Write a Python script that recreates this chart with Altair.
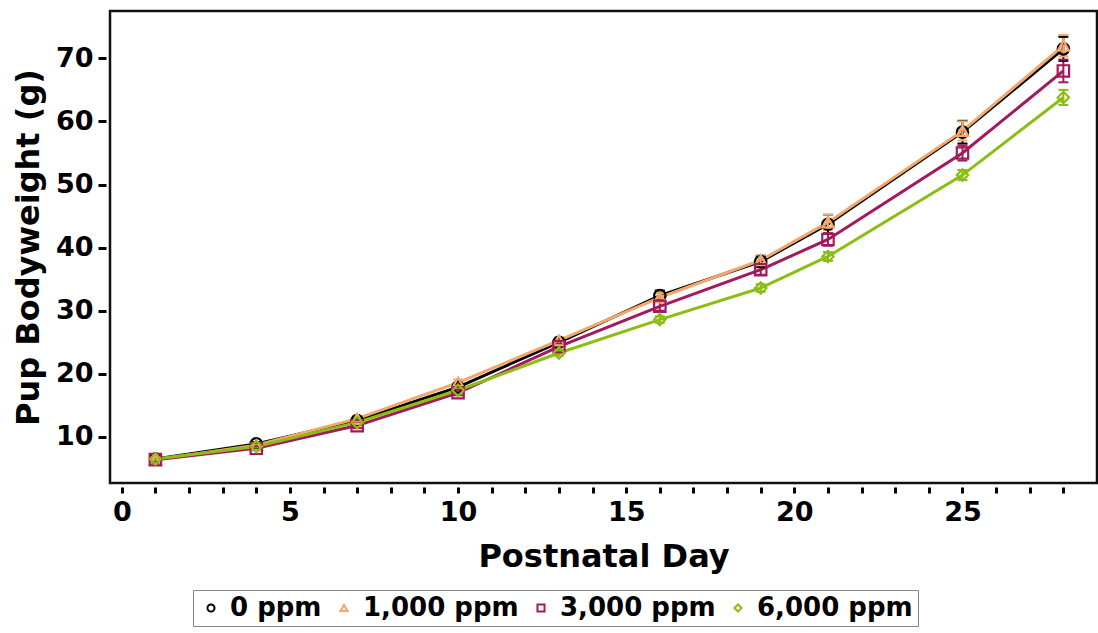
import altair as alt
import pandas as pd

days = [1, 4, 7, 10, 13, 16, 19, 21, 25, 28]
groups = ["0 ppm", "1,000 ppm", "3,000 ppm", "6,000 ppm"]
colors = ["#000000", "#F4A76B", "#A3195B", "#8CBD14"]
shapes = ["circle", "triangle-up", "square", "diamond"]

w_0 = [6.5, 8.9, 12.6, 17.9, 25.0, 32.4, 37.8, 43.7, 58.3, 71.5]
w_1000 = [6.4, 8.7, 12.9, 18.6, 25.3, 32.1, 38.0, 44.0, 58.5, 72.0]
w_3000 = [6.4, 8.2, 11.8, 17.0, 24.3, 30.7, 36.5, 41.3, 55.0, 68.0]
w_6000 = [6.5, 8.5, 12.3, 17.4, 23.3, 28.6, 33.6, 38.6, 51.5, 63.8]

se_0 = [0.3, 0.3, 0.4, 0.5, 0.6, 0.8, 0.9, 1.5, 1.8, 1.9]
se_1000 = [0.3, 0.3, 0.4, 0.5, 0.5, 0.7, 0.8, 1.2, 1.5, 1.7]
se_3000 = [0.3, 0.3, 0.4, 0.4, 0.5, 0.7, 0.8, 1.0, 1.2, 1.8]
se_6000 = [0.2, 0.3, 0.3, 0.4, 0.4, 0.5, 0.6, 0.7, 0.8, 1.2]

rows = []
for g, ws, ses in zip(groups, [w_0, w_1000, w_3000, w_6000], [se_0, se_1000, se_3000, se_6000]):
    for d, w, s in zip(days, ws, ses):
        rows.append({"Day": d, "Weight": w, "Dose": g, "lo": w - s, "hi": w + s})
df = pd.DataFrame(rows)

FONT = "DejaVu Sans"

xscale = alt.Scale(domain=[-0.35, 29.0], nice=False, zero=False)
yscale = alt.Scale(domain=[2.7, 77.5], nice=False, zero=False)
cscale = alt.Scale(domain=groups, range=colors)
sscale = alt.Scale(domain=groups, range=shapes)

xaxis = alt.Axis(
    values=list(range(0, 29)), tickCount=60, format="d",
    labelExpr="datum.value % 5 == 0 ? datum.label : ''",
    labelOverlap=False, labelFlush=False,
    domain=False, offset=4, tickSize=6, tickWidth=3, tickColor="#000",
    labelFont=FONT, labelFontSize=27, labelFontWeight="bold", labelColor="#000",
    labelPadding=6, grid=False,
    title="Postnatal Day", titleFont=FONT, titleFontSize=32, titleFontWeight="bold",
    titleColor="#000", titlePadding=16,
)
yaxis = alt.Axis(
    values=[10, 20, 30, 40, 50, 60, 70], format="d",
    domain=False, offset=4, tickSize=8, tickWidth=3, tickColor="#000",
    labelFont=FONT, labelFontSize=27, labelFontWeight="bold", labelColor="#000",
    labelPadding=5, grid=False,
    title="Pup Bodyweight (g)", titleFont=FONT, titleFontSize=32, titleFontWeight="bold",
    titleColor="#000", titlePadding=10,
)

base = alt.Chart(df)

lines = base.mark_line(strokeWidth=3).encode(
    x=alt.X("Day:Q", scale=xscale, axis=xaxis),
    y=alt.Y("Weight:Q", scale=yscale, axis=yaxis),
    color=alt.Color("Dose:N", scale=cscale, legend=None),
)

rules = base.mark_rule(strokeWidth=2).encode(
    x="Day:Q",
    y="lo:Q",
    y2="hi:Q",
    color=alt.Color("Dose:N", scale=cscale, legend=None),
)
caps_lo = base.mark_tick(orient="horizontal", size=10, thickness=2, opacity=1).encode(
    x="Day:Q", y="lo:Q",
    color=alt.Color("Dose:N", scale=cscale, legend=None),
)
caps_hi = base.mark_tick(orient="horizontal", size=10, thickness=2, opacity=1).encode(
    x="Day:Q", y="hi:Q",
    color=alt.Color("Dose:N", scale=cscale, legend=None),
)

legend = alt.Legend(
    title=None, orient="none", legendX=83, legendY=579, direction="horizontal",
    columns=4, labelFont=FONT, labelFontSize=26, labelFontWeight="bold", labelColor="#000",
    labelLimit=500, symbolSize=50, symbolStrokeWidth=2, symbolOpacity=1,
    columnPadding=9, labelOffset=6,
    strokeColor="#888", padding=5, fillColor="white",
)

points = base.mark_point(filled=False, size=130, strokeWidth=2.2, opacity=1).encode(
    x="Day:Q",
    y="Weight:Q",
    color=alt.Color("Dose:N", scale=cscale, legend=legend),
    shape=alt.Shape("Dose:N", scale=sscale, legend=legend),
)

chart = alt.layer(lines, rules, caps_lo, caps_hi, points).resolve_legend(
    color="independent", shape="independent"
).properties(
    width=987, height=472,
    autosize=alt.AutoSizeParams(type="none"),
    padding={"left": 110, "top": 11, "right": 1, "bottom": 145},
    background="white",
).configure_view(stroke="#111", strokeWidth=2.5)

chart.save("out.html", embed_options={"renderer": "svg", "actions": False})
